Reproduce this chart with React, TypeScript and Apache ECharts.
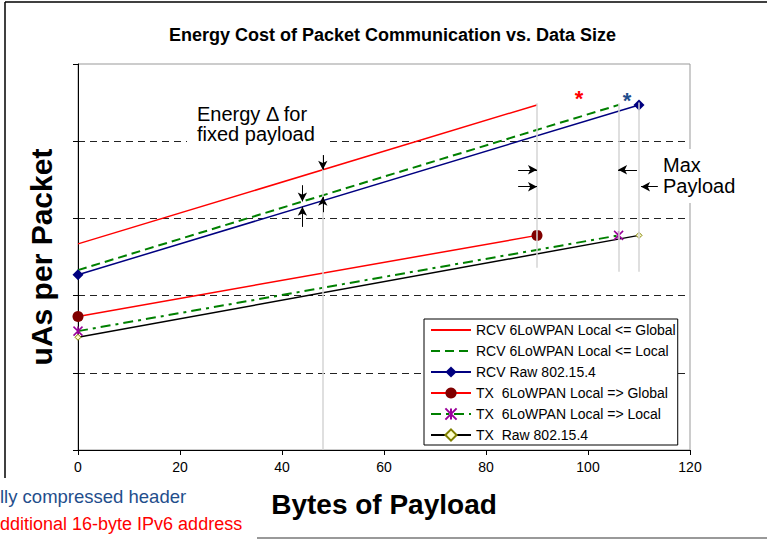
import React, { useEffect, useRef } from "react";
import * as echarts from "echarts";

const FONT = "'Liberation Sans', Arial, sans-serif";

const titleText = "Energy Cost of Packet Communication vs. Data Size";
const xAxisName = "Bytes of Payload";
const yAxisName = "uAs per Packet";

const seriesNames = [
  "RCV 6LoWPAN Local <= Global",
  "RCV 6LoWPAN Local <= Local",
  "RCV Raw 802.15.4",
  "TX  6LoWPAN Local => Global",
  "TX  6LoWPAN Local => Local",
  "TX  Raw 802.15.4",
];

// [payload bytes, uAs per packet]
const rcvLocalGlobal = [[0, 2.67], [90, 4.47]];
const rcvLocalLocal = [[0, 2.33], [106, 4.47]];
const rcvRaw = [[0, 2.27], [110, 4.47]];
const txLocalGlobal = [[0, 1.73], [90, 2.78]];
const txLocalLocal = [[0, 1.54], [106, 2.78]];
const txRaw = [[0, 1.46], [110, 2.78]];

// vertical guide lines: x, y from, y to
const guideX = [48, 90, 106, 110];
const guideFrom = [0, 2.36, 2.31, 2.31];
const guideTo = [3.82, 4.49, 4.49, 4.5];

// arrows: x1, y1, x2 (tip), y2 (tip)
const arrows = [
  [48, 3.82, 48, 3.63],
  [48, 3.08, 48, 3.28],
  [44, 3.43, 44, 3.22],
  [44, 2.89, 44, 3.15],
  [86.3, 3.63, 90, 3.63],
  [86.3, 3.41, 90, 3.41],
  [109.6, 3.63, 105.9, 3.63],
  [113.7, 3.41, 110.4, 3.41],
];

const asteriskPath = "path://M0,0L10,10M10,0L0,10M5,0L5,10";

export default function App() {
  const ref = useRef<HTMLDivElement>(null);
  useEffect(() => {
    const chart = echarts.init(ref.current!, null, { renderer: "svg" });

    const guideLines = guideX.map((x, i) => [
      { coord: [x, guideFrom[i]], symbol: "none" },
      { coord: [x, guideTo[i]], symbol: "none" },
    ]);
    const arrowLines = arrows.map((a) => [
      { coord: [a[0], a[1]], symbol: "none", lineStyle: { color: "#000", width: 1, type: "solid" } },
      { coord: [a[2], a[3]], symbol: "arrow", symbolSize: [7, 9] },
    ]);

    const legendData = seriesNames.map((name, i) =>
      i < 2 ? { name, itemStyle: { opacity: 0 } } : { name }
    );

    const option: any = {
      animation: false,
      backgroundColor: "#fff",
      textStyle: { fontFamily: FONT },
      title: {
        text: titleText,
        left: 164,
        top: 21,
        textStyle: { fontSize: 18, fontWeight: "bold", color: "#000", fontFamily: FONT },
      },
      grid: {
        left: 78,
        right: 77,
        top: 64,
        bottom: 90,
        show: true,
        borderColor: "#999",
        borderWidth: 1,
      },
      legend: {
        data: legendData,
        orient: "vertical",
        left: 424,
        top: 319,
        itemWidth: 40,
        itemHeight: 14,
        itemGap: 7,
        padding: [4, 2, 3, 6],
        backgroundColor: "#fff",
        borderColor: "#000",
        borderWidth: 1,
        borderRadius: 0,
        selectedMode: false,
        textStyle: { fontSize: 14, color: "#000", fontFamily: FONT },
      },
      xAxis: {
        type: "value",
        min: 0,
        max: 120,
        interval: 20,
        name: xAxisName,
        nameLocation: "middle",
        nameGap: 40,
        nameTextStyle: { fontSize: 28, fontWeight: "bold", color: "#000", fontFamily: FONT },
        axisLine: { show: true, lineStyle: { color: "#000", width: 1 } },
        axisTick: { show: true, length: 5, lineStyle: { color: "#000" } },
        axisLabel: { color: "#000", fontSize: 14, margin: 10, fontFamily: FONT },
        splitLine: { show: false },
      },
      yAxis: {
        type: "value",
        min: 0,
        max: 5,
        interval: 1,
        name: yAxisName,
        nameLocation: "middle",
        nameGap: 22,
        nameTextStyle: { fontSize: 30, fontWeight: "bold", color: "#000", fontFamily: FONT },
        axisLine: { show: true, lineStyle: { color: "#000", width: 1 } },
        axisTick: { show: true, length: 5, lineStyle: { color: "#000" } },
        axisLabel: { show: false },
        splitLine: {
          show: true,
          showMinLine: false,
          showMaxLine: false,
          lineStyle: { color: "#222", width: 1, type: [7, 5] },
        },
      },
      series: [
        {
          name: "annotations",
          type: "line",
          data: [],
          silent: true,
          z: 1,
          markLine: {
            silent: true,
            animation: false,
            symbol: "none",
            label: { show: false },
            emphasis: { disabled: true },
            lineStyle: { color: "#d4d4d4", width: 1.5, type: "solid" },
            data: [...guideLines, ...arrowLines],
          },
        },
        {
          name: seriesNames[0],
          type: "line",
          data: rcvLocalGlobal,
          symbol: "none",
          lineStyle: { color: "#ff0000", width: 1.5 },
          itemStyle: { color: "#ff0000" },
          z: 3,
        },
        {
          name: seriesNames[1],
          type: "line",
          data: rcvLocalLocal,
          symbol: "none",
          lineStyle: { color: "#008000", width: 2, type: [9, 5] },
          itemStyle: { color: "#008000" },
          z: 3,
        },
        {
          name: seriesNames[2],
          type: "line",
          data: rcvRaw,
          symbol: "diamond",
          symbolSize: 11,
          lineStyle: { color: "#000080", width: 1.5 },
          itemStyle: { color: "#000080" },
          z: 3,
        },
        {
          name: seriesNames[3],
          type: "line",
          data: txLocalGlobal,
          symbol: "circle",
          symbolSize: 11,
          lineStyle: { color: "#ff0000", width: 1.5 },
          itemStyle: { color: "#800000" },
          z: 3,
        },
        {
          name: seriesNames[4],
          type: "line",
          data: txLocalLocal,
          symbol: asteriskPath,
          symbolSize: 9,
          lineStyle: { color: "#008000", width: 2, type: [10, 5, 3, 5] },
          itemStyle: { color: "#990099", borderColor: "#990099", borderWidth: 1.5 },
          z: 3,
        },
        {
          name: seriesNames[5],
          type: "line",
          data: txRaw,
          symbol: "diamond",
          symbolSize: 6,
          lineStyle: { color: "#000000", width: 1.5 },
          itemStyle: { color: "#ffffcc", borderColor: "#808000", borderWidth: 1 },
          z: 3,
        },
      ],
      graphic: [
        { type: "line", z: 100, shape: { x1: 5, y1: 2, x2: 767, y2: 2 }, style: { stroke: "#000", lineWidth: 1.5 } },
        { type: "line", z: 100, shape: { x1: 5, y1: 2, x2: 5, y2: 478 }, style: { stroke: "#000", lineWidth: 1.5 } },
        { type: "line", z: 100, shape: { x1: 257, y1: 538, x2: 767, y2: 538 }, style: { stroke: "#999", lineWidth: 2 } },
        { type: "rect", z: 100, shape: { x: 187, y: 100, width: 140, height: 46 }, style: { fill: "#fff" } },
        { type: "text", z: 101, x: 197, y: 114, style: { text: "Energy Δ for", font: `20px ${FONT}`, fill: "#000", textVerticalAlign: "middle" } },
        { type: "text", z: 101, x: 197, y: 134, style: { text: "fixed payload", font: `20px ${FONT}`, fill: "#000", textVerticalAlign: "middle" } },
        { type: "rect", z: 100, shape: { x: 660, y: 149, width: 85, height: 54 }, style: { fill: "#fff" } },
        { type: "text", z: 101, x: 663, y: 165, style: { text: "Max", font: `20px ${FONT}`, fill: "#000", textVerticalAlign: "middle" } },
        { type: "text", z: 101, x: 663, y: 186, style: { text: "Payload", font: `20px ${FONT}`, fill: "#000", textVerticalAlign: "middle" } },
        { type: "text", z: 101, x: 579, y: 98, style: { text: "*", font: `bold 22px ${FONT}`, fill: "#ff0000", textAlign: "center", textVerticalAlign: "middle" } },
        { type: "text", z: 101, x: 627, y: 100, style: { text: "*", font: `bold 22px ${FONT}`, fill: "#1f4e8c", textAlign: "center", textVerticalAlign: "middle" } },
        { type: "text", z: 101, x: 0, y: 496, style: { text: "lly compressed header", font: `18.5px ${FONT}`, fill: "#1f4e8c", textVerticalAlign: "middle" } },
        { type: "text", z: 101, x: 0, y: 524, style: { text: "dditional 16-byte IPv6 address", font: `18px ${FONT}`, fill: "#ff0000", textVerticalAlign: "middle" } },
      ],
    };

    chart.setOption(option);
    return () => chart.dispose();
  }, []);

  return (
    <div
      ref={ref}
      style={{ width: 767, height: 540, position: "absolute", left: 0, top: 0 }}
    />
  );
}
